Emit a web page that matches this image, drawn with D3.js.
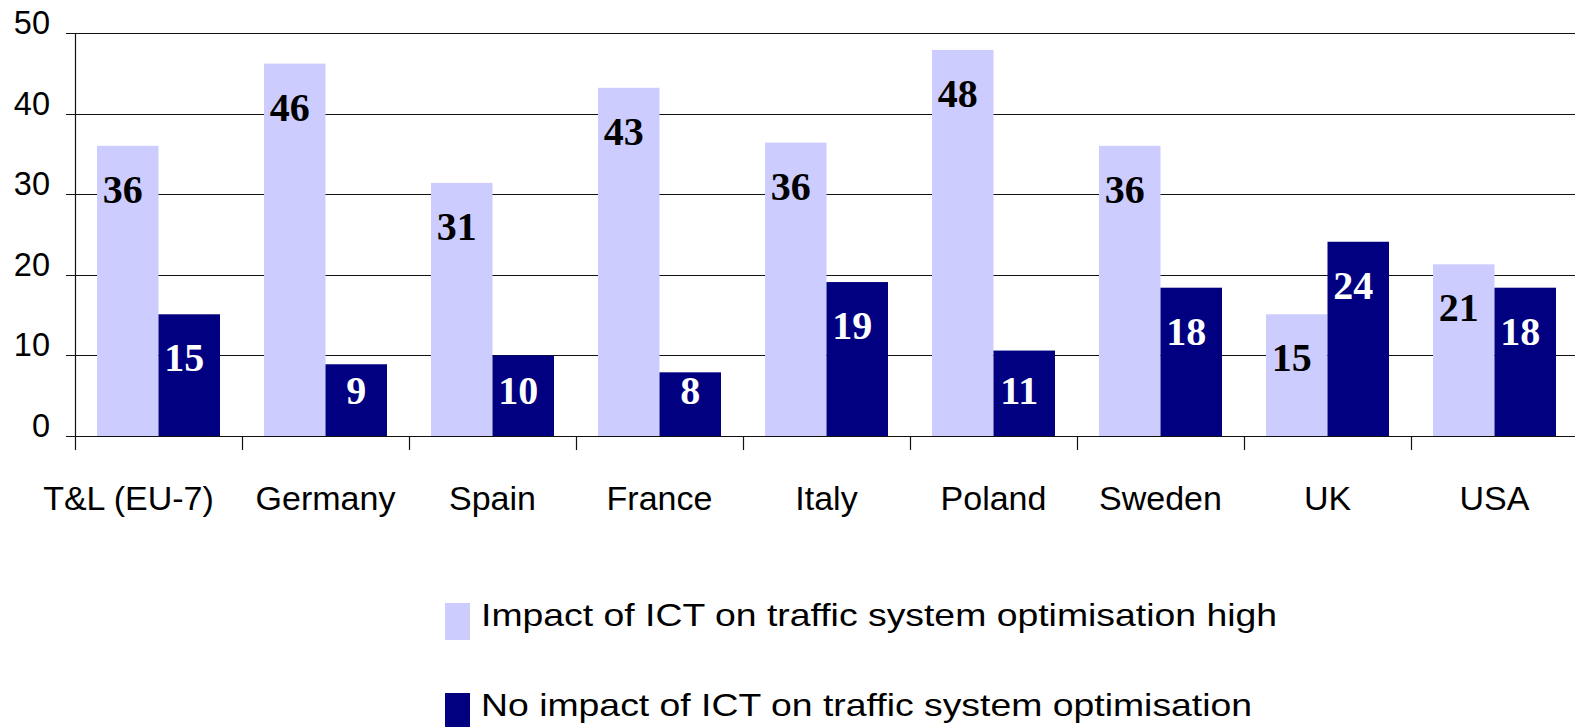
<!DOCTYPE html>
<html>
<head>
<meta charset="utf-8">
<script src="https://cdn.jsdelivr.net/npm/d3@7"></script>
<style>
  body { margin: 0; background: #fff; }
  svg { display: block; }
</style>
</head>
<body>
<svg id="graph"></svg>
<script>
var categories = ["T&L (EU-7)", "Germany", "Spain", "France", "Italy", "Poland", "Sweden", "UK", "USA"];
var seriesNames = ["Impact of ICT on traffic system optimisation high",
                   "No impact of ICT on traffic system optimisation"];
var highValues = [36.0, 46.2, 31.4, 43.2, 36.4, 47.9, 36.0, 15.1, 21.3];
var noValues = [15.1, 8.9, 10.0, 7.9, 19.1, 10.6, 18.4, 24.1, 18.4];
var yTicks = [0, 10, 20, 30, 40, 50];
var colors = ["#CCCCFF", "#000080"];
var labelColors = ["#000", "#fff"];

var w = 1575, h = 727;
var plotLeft = 75, plotTop = 33, plotBottom = 436;
var band = 167;
var fmt = d3.format(".0f");

var svg = d3.select("#graph").attr("width", w).attr("height", h);

var x0 = d3.scaleBand()
    .domain(categories)
    .range([plotLeft, plotLeft + band * categories.length]);

var x1 = d3.scaleBand()
    .domain([0, 1])
    .range([22, band - 22]);

var y = d3.scaleLinear()
    .domain([0, 50])
    .range([plotBottom, plotTop]);

// grid lines
svg.append("g")
    .selectAll("line")
    .data(yTicks)
    .join("line")
    .attr("x1", plotLeft - 9)
    .attr("x2", w)
    .attr("y1", d => Math.round(y(d)) + 0.5)
    .attr("y2", d => Math.round(y(d)) + 0.5)
    .attr("stroke", "#111")
    .attr("stroke-width", 1.2);

// y tick labels
svg.append("g")
    .selectAll("text")
    .data(yTicks)
    .join("text")
    .attr("x", 50)
    .attr("y", d => y(d) + 1)
    .attr("text-anchor", "end")
    .attr("font-family", "Liberation Sans, Arial, sans-serif")
    .attr("font-size", 32.5)
    .text(d => d);

// bars
var data = categories.map((c, i) => ({cat: c, vals: [highValues[i], noValues[i]]}));

var groups = svg.append("g")
    .selectAll("g")
    .data(data)
    .join("g")
    .attr("transform", d => "translate(" + x0(d.cat) + ",0)");

groups.selectAll("rect")
    .data(d => d.vals.map((v, k) => ({k: k, v: v})))
    .join("rect")
    .attr("x", d => x1(d.k))
    .attr("width", x1.bandwidth())
    .attr("y", d => y(d.v))
    .attr("height", d => y(0) - y(d.v))
    .attr("fill", d => colors[d.k]);

groups.selectAll("text")
    .data(d => d.vals.map((v, k) => ({k: k, v: v})))
    .join("text")
    .attr("x", d => x1(d.k) + x1.bandwidth() / 2)
    .attr("dx", d => fmt(d.v).length > 1 ? -5 : 0)
    .attr("y", d => Math.min(y(d.v) + 57, y(0) - 32))
    .attr("text-anchor", "middle")
    .attr("font-family", "Liberation Serif, Times New Roman, serif")
    .attr("font-weight", "bold")
    .attr("font-size", 40)
    .attr("fill", d => labelColors[d.k])
    .text(d => fmt(d.v));

// y axis line
svg.append("line")
    .attr("x1", plotLeft + 0.5).attr("x2", plotLeft + 0.5)
    .attr("y1", plotTop).attr("y2", plotBottom + 14)
    .attr("stroke", "#111").attr("stroke-width", 1.2);

// x axis ticks
var bounds = categories.map(c => x0(c));
svg.append("g")
    .selectAll("line")
    .data(bounds.slice(1))
    .join("line")
    .attr("x1", d => Math.round(d) + 0.5)
    .attr("x2", d => Math.round(d) + 0.5)
    .attr("y1", plotBottom)
    .attr("y2", plotBottom + 14)
    .attr("stroke", "#111")
    .attr("stroke-width", 1.2);

// category labels
svg.append("g")
    .selectAll("text")
    .data(categories)
    .join("text")
    .attr("x", d => x0(d) + band / 2)
    .attr("dx", (d, i) => i === 0 ? -30 : 0)
    .attr("y", 510)
    .attr("text-anchor", "middle")
    .attr("font-family", "Liberation Sans, Arial, sans-serif")
    .attr("font-size", 34)
    .text(d => d);

// legend
var legend = svg.append("g")
    .selectAll("g")
    .data(seriesNames)
    .join("g")
    .attr("transform", (d, i) => "translate(445," + (603 + i * 90) + ")");

legend.append("rect")
    .attr("width", 25)
    .attr("height", 37)
    .attr("fill", (d, i) => colors[i]);

legend.append("text")
    .attr("transform", "translate(36,23) scale(1.168,1)")
    .attr("font-family", "Liberation Sans, Arial, sans-serif")
    .attr("font-size", 32)
    .text(d => d);
</script>
</body>
</html>
